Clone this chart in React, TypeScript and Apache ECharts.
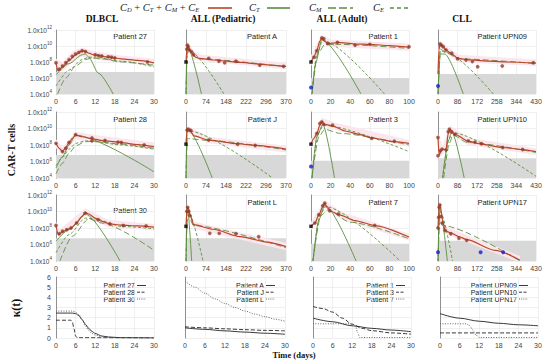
import React, { useEffect, useRef } from "react";
import * as echarts from "echarts";

// ---------------- DATA ----------------
const columnTitles = ["DLBCL", "ALL (Pediatric)", "ALL (Adult)", "CLL"];
const xMaxByColumn = [30, 370, 100, 430];
const xStepByColumn = [6, 74, 20, 86];
const logTickMin = 4;
const logTickMax = 12;
const kappaMax = 6;

// Row 1
const p27Total = [[0, 7.9], [0.6, 6.9], [2, 7.4], [4, 8.2], [6, 8.9], [8, 9.4], [9, 9.35], [10, 9.1], [12, 8.85], [16, 8.6], [20, 8.4], [25, 8.2], [30, 7.9]];
const p27Obs = [[0, 7.9], [1, 7.1], [2, 7.5], [3, 7.9], [4, 8.3], [5, 8.7], [6, 9.0], [7, 9.2], [8, 9.4], [9, 9.3], [12, 8.9], [13, 8.8], [14, 8.75], [16, 8.65], [17, 8.6], [18, 8.5], [28, 8.0]];
const p27CT = [[0, 6.4], [4, 7.8], [8, 8.9], [9, 9.0], [10, 8.6], [13, 6.6], [17.5, 4]];
const p27CM = [[0.5, 4], [3, 6.0], [6, 7.5], [9, 8.3], [11, 8.5], [14, 8.4], [20, 8.0], [30, 7.6]];
const p27CE = [[0, 5.0], [4, 7.0], [8, 8.3], [10, 8.6], [12, 8.6], [20, 8.1], [30, 7.4]];
const p27Band = [[0, 7.3, 8.4], [2, 6.8, 8.0], [5, 8.0, 9.3], [8, 8.7, 9.8], [12, 8.3, 9.3], [20, 7.9, 8.8], [30, 7.5, 8.4]];

const pATotal = [[0, 8.0], [3, 9.5], [6, 10.1], [10, 9.8], [20, 9.2], [35, 8.6], [50, 8.45], [100, 8.25], [200, 7.95], [300, 7.65], [370, 7.45]];
const pAObs = [[3, 9.6], [5, 10.1], [8, 9.9], [12, 9.5], [20, 9.3], [28, 8.9], [84, 8.45], [122, 8.1], [143, 7.9], [185, 8.1], [273, 7.6], [361, 7.45]];
const pACT = [[0, 4], [3, 9.5], [6, 9.9], [57, 4]];
const pACM = [[0, 4], [4, 9.0], [10, 9.3], [50, 8.4], [370, 7.4]];
const pACE = [[0, 4], [5, 9.6], [10, 9.5], [140, 4]];
const pABand = [[0, 7.6, 9.0], [4, 9.0, 10.6], [10, 9.2, 10.3], [30, 8.3, 9.3], [60, 8.1, 8.9], [370, 7.1, 7.9]];

const p1Total = [[0, 8.0], [3, 8.6], [6, 9.5], [9, 10.6], [11, 11.0], [14, 10.6], [17, 10.3], [22, 10.35], [27, 10.45], [45, 10.25], [60, 10.2], [80, 10.05], [100, 9.85]];
const p1Obs = [[3, 8.6], [6, 9.4], [11, 11.0], [13, 10.9], [17, 10.3], [27, 10.45], [45, 10.1], [60, 10.2], [100, 9.9]];
const p1CT = [[1, 4], [5, 8.0], [11, 10.8], [51, 4]];
const p1CM = [[1, 4], [7, 9.0], [14, 10.2], [30, 10.2], [100, 9.7]];
const p1CE = [[1, 4], [6, 9.0], [12, 10.7], [75, 4]];
const p1Band = [[0, 7.5, 8.8], [5, 8.6, 10.0], [11, 10.4, 11.4], [20, 9.9, 10.8], [100, 9.4, 10.3]];

const upn09Total = [[0, 6.5], [4, 9.5], [9, 10.25], [23, 9.9], [35, 9.5], [60, 9.0], [86, 8.5], [123, 8.3], [200, 8.15], [300, 8.0], [430, 7.85]];
const upn09Obs = [[9, 10.25], [15, 10.1], [23, 9.9], [35, 9.5], [60, 9.1], [86, 8.4], [123, 8.25], [151, 8.05], [174, 7.4], [282, 7.5], [418, 7.9]];
const upn09CT = [[0, 4], [10, 9.0], [30, 9.0], [111, 4]];
const upn09CM = [[0, 4], [10, 9.6], [40, 9.1], [90, 8.4], [430, 7.8]];
const upn09CE = [[0, 4], [10, 9.4], [35, 9.2], [243, 4]];
const upn09Band = [[0, 6.6, 9.5], [9, 9.7, 10.7], [40, 9.0, 9.9], [90, 8.0, 8.9], [430, 7.5, 8.3]];

// Row 2
const p28Total = [[0, 8.2], [1, 7.6], [2, 7.2], [3, 7.7], [4, 8.3], [5, 8.8], [6, 9.2], [8, 9.0], [11, 8.75], [15, 8.5], [20, 8.3], [25, 8.05], [30, 7.8]];
const p28Obs = [[0, 8.2], [2, 7.2], [3, 7.6], [4, 8.3], [6, 9.25], [11, 8.85], [11, 8.5], [15, 8.55], [19, 8.35], [20, 8.3], [27, 8.0]];
const p28CT = [[0, 5.2], [2, 6.6], [4, 8.0], [6, 9.2], [30, 4.75]];
const p28CM = [[0, 4.5], [2, 5.8], [4, 7.0], [6, 7.9], [9, 8.4], [12, 8.45], [20, 8.1], [30, 7.6]];
const p28CE = [[0, 5.5], [2, 6.5], [4, 7.5], [6, 8.2], [9, 8.5], [12, 8.4], [20, 8.0], [30, 7.5]];
const p28Band = [[0, 7.6, 8.7], [2, 6.8, 7.7], [6, 8.7, 9.6], [12, 8.3, 9.2], [30, 7.4, 8.3]];

const pJTotal = [[0, 8.1], [3, 9.5], [6, 9.9], [15, 9.75], [30, 9.1], [84, 8.6], [191, 8.15], [256, 7.95], [370, 7.5]];
const pJObs = [[4, 9.8], [8, 9.9], [13, 9.8], [18, 9.75], [84, 8.6], [191, 8.1], [256, 7.95]];
const pJCT = [[0, 4], [3, 9.6], [8, 9.8], [97, 4]];
const pJCM = [[0, 4], [5, 8.8], [15, 8.75], [84, 8.55], [370, 7.4]];
const pJCE = [[0, 4], [4, 9.6], [10, 9.7], [320, 4]];
const pJBand = [[0, 7.6, 8.8], [5, 9.4, 10.3], [20, 9.2, 10.1], [84, 8.2, 9.0], [370, 7.1, 7.9]];

const p3Total = [[0, 8.1], [3, 8.8], [6, 9.4], [9, 10.4], [11, 10.8], [14, 10.5], [22, 10.3], [35, 9.7], [49, 9.3], [62, 8.85], [85, 8.4], [100, 8.2]];
const p3Obs = [[6, 9.4], [9, 10.6], [11, 10.8], [13, 10.5], [22, 10.4], [62, 8.8], [85, 8.45]];
const p3CT = [[1, 4], [6, 9], [12, 10.5], [24, 4]];
const p3CM = [[1, 4], [8, 9.0], [14, 9.9], [30, 9.4], [100, 8.0]];
const p3CE = [[1, 4], [7, 9.4], [13, 10.4], [100, 7.2]];
const p3Band = [[0, 7.6, 8.7], [6, 8.9, 9.9], [11, 10.3, 11.3], [25, 9.8, 10.7], [100, 7.8, 8.6]];

const upn10Total = [[0, 8.9], [5, 6.8], [16, 7.4], [35, 7.5], [45, 9.4], [53, 9.9], [65, 9.5], [75, 9.3], [133, 8.45], [191, 8.1], [284, 7.7], [371, 7.45], [430, 7.2]];
const upn10Obs = [[0, 8.9], [0, 6.7], [10, 7.3], [18, 7.5], [35, 7.4], [45, 9.6], [50, 9.9], [60, 9.6], [75, 9.3], [133, 8.5], [162, 8.35], [191, 8.15], [284, 7.7], [371, 7.45]];
const upn10CT = [[20, 4], [45, 8.5], [60, 9.6], [115, 4]];
const upn10CM = [[25, 4], [50, 8.2], [65, 9.2], [130, 8.3], [430, 7.1]];
const upn10CE = [[20, 4], [50, 8.8], [62, 9.5], [430, 4.2]];
const upn10Band = [[0, 6.3, 9.3], [20, 6.9, 7.9], [53, 9.4, 10.4], [130, 8.0, 8.9], [430, 6.8, 7.6]];

// Row 3
const p30Total = [[0, 8.3], [0.7, 7.2], [2, 7.5], [3.3, 7.8], [4.6, 8.0], [6.3, 8.6], [8, 9.4], [9, 9.9], [10, 9.7], [12, 9.2], [14, 8.8], [16.5, 8.5], [20, 8.35], [25, 8.25], [30, 8.1]];
const p30Obs = [[0, 8.3], [1, 7.3], [2, 7.6], [3.3, 7.8], [4.6, 8.0], [6.3, 8.6], [8.9, 9.8], [12.9, 9.0], [16.5, 8.5], [20.6, 8.3], [27.6, 8.25]];
const p30CT = [[0, 6.4], [4, 7.8], [9, 9.7], [19.6, 4]];
const p30CM = [[1.2, 4], [5, 7.0], [10, 9.1], [14, 8.6], [30, 5.3]];
const p30CE = [[0, 5.0], [4, 7.2], [9, 9.2], [12, 9.1], [20, 8.2], [30, 7.9]];
const p30Band = [[0, 7.8, 8.8], [1, 6.9, 7.8], [9, 9.5, 10.4], [16, 8.1, 9.0], [30, 7.7, 8.5]];

const pLTotal = [[0, 8.2], [4, 10.3], [8, 10.5], [15, 9.6], [28, 8.4], [100, 7.85], [200, 6.95], [300, 6.3], [370, 5.75]];
const pLObs = [[3, 10.0], [6, 10.5], [10, 10.0], [14, 9.5], [88, 7.35], [123, 7.35], [185, 7.3], [269, 6.95]];
const pLCT = [[0, 4], [3, 10.2], [6, 10.3], [21, 4]];
const pLCM = [[0, 4], [5, 9.0], [15, 9.0], [28, 8.3], [370, 5.6]];
const pLCE = [[0, 4], [4, 10.0], [8, 10.1], [63, 4]];
const pLBand = [[0, 7.7, 8.8], [6, 9.9, 10.9], [28, 7.9, 8.8], [370, 5.3, 6.2]];

const p7Total = [[0, 8.2], [4, 8.6], [8, 9.6], [12, 10.6], [14, 11.0], [17, 10.4], [21, 10.0], [29, 9.6], [45, 8.9], [65, 8.3], [100, 6.9]];
const p7Obs = [[4, 8.6], [8, 9.6], [12, 10.7], [14, 11.0], [19, 10.1], [28, 9.7], [65, 8.3]];
const p7CT = [[2, 4], [8, 9.0], [14, 10.8], [46, 4]];
const p7CM = [[2, 4], [10, 9.5], [17, 10.2], [40, 8.7], [100, 6.7]];
const p7CE = [[2, 4], [9, 9.5], [15, 10.6], [91, 4]];
const p7Band = [[0, 7.7, 8.7], [14, 10.5, 11.4], [30, 9.1, 10.0], [100, 6.5, 7.3]];

const upn17Total = [[0, 8.0], [5, 10.5], [10, 10.8], [15, 9.8], [20, 9.0], [31, 7.7], [56, 7.4], [92, 6.95], [126, 6.6], [250, 5.3], [360, 4.1]];
const upn17Obs = [[0, 8.0], [3, 9.3], [5, 10.5], [8, 10.8], [12, 9.4], [18, 8.6], [31, 7.7], [56, 7.3], [92, 6.75], [126, 6.5]];
const upn17CT = [[0, 4], [6, 10.3], [10, 10.2], [41, 4]];
const upn17CM = [[0, 4], [8, 9.0], [20, 8.3], [360, 4.0]];
const upn17CE = [[0, 4], [7, 10], [12, 9.9], [64, 4]];
const upn17Band = [[0, 7.5, 8.6], [8, 10.3, 11.2], [31, 7.3, 8.2], [360, 3.8, 4.6]];

// infusion dose markers (black squares) and blue markers
const doseA = [[0, 8.0]];
const doseJ = [[0, 8.1]];
const doseL = [[0, 8.2]];
const dose1 = [[0, 8.0]];
const dose3 = [[0, 8.1]];
const dose7 = [[0, 8.2]];
const blue1 = [[0, 4.8]];
const blue3 = [[0, 5.4]];
const blue09 = [[0, 5.0]];
const blue17 = [[0, 5.05], [187, 5.05], [286, 5.05]];

// detection-limit band tops (log10)
const bandTops = [6.75, 6.75, 6.0, 6.5, 6.8, 6.8, 6.1, 6.4, 6.75, 6.75, 6.1, 6.45];

const panelNames = ["Patient 27", "Patient A", "Patient 1", "Patient UPN09", "Patient 28", "Patient J", "Patient 3", "Patient UPN10", "Patient 30", "Patient L", "Patient 7", "Patient UPN17"];

// kappa(t)
const k27 = [[0, 2.45], [5, 2.45], [6, 2.4], [7, 2.2], [8, 1.8], [9, 1.35], [10, 0.95], [11, 0.65], [12, 0.45], [14, 0.2], [16, 0.1], [20, 0.03], [30, 0]];
const k28 = [[0, 1.75], [4.5, 1.75], [5, 1.6], [5.5, 0.9], [6, 0.2], [6.5, 0.03], [30, 0]];
const k30 = [[0, 2.65], [5, 2.65], [6, 2.55], [7, 2.3], [8, 1.8], [9, 1.2], [10, 0.75], [11, 0.45], [12, 0.3], [14, 0.12], [18, 0.03], [30, 0]];
const kA = [[0, 1.0], [6, 0.85], [12, 0.7], [18, 0.58], [24, 0.47], [30, 0.37]];
const kJ = [[0, 1.1], [6, 1.0], [12, 0.9], [18, 0.82], [24, 0.75], [30, 0.7]];
const kL = [[0, 5.6], [3, 5.0], [6, 4.4], [9, 3.85], [12, 3.4], [15, 3.0], [18, 2.65], [21, 2.35], [24, 2.1], [27, 1.85], [30, 1.65]];
const k1 = [[0, 1.95], [6, 1.6], [12, 1.2], [18, 0.95], [24, 0.78], [30, 0.62]];
const k3 = [[0, 3.1], [3, 2.9], [6, 2.55], [9, 1.95], [12, 1.35], [15, 0.95], [18, 0.72], [24, 0.5], [30, 0.38]];
const k7 = [[0, 1.4], [12, 1.4], [13, 1.2], [13.7, 0.5], [14.3, 0.05], [30, 0.05]];
const k09 = [[0, 2.4], [6, 1.95], [12, 1.65], [18, 1.45], [24, 1.3], [30, 1.2]];
const k10 = [[0, 0.5], [30, 0.5]];
const k17 = [[0, 1.4], [8, 1.4], [9, 1.25], [10, 0.8], [11, 0.3], [12, 0.05], [30, 0.05]];
const kappaNames = [["Patient 27", "Patient 28", "Patient 30"], ["Patient A", "Patient J", "Patient L"], ["Patient 1", "Patient 3", "Patient 7"], ["Patient UPN09", "Patient UPN10", "Patient UPN17"]];

// ---------------- LAYOUT / STYLE ----------------
const SANS = "'Liberation Sans', Arial, sans-serif";
const SERIF = "'Liberation Serif', 'DejaVu Serif', serif";
const RED = "#b5482a";
const DOT = "#8a3a22";
const GREEN = "#5c8f3e";
const PINK = "#fce6ee";
const GRID_C = "#e4e4e4";

const colLeft = [56, 186, 311, 438];
const colWidth = [98, 100, 98, 98];
const rowTop = [30, 112, 195];
const rowHeight = [64, 66, 66];
const kLeft = [56, 185, 313, 440];
const kTop = 277;
const kHeight = 61;
const labelX = [147, 277, 398, 527];
const labelY = [[36, 36, 36, 36], [119, 119, 119, 119], [210, 202, 202, 202]];
const kLegendIconX = [137, 266, 396, 519];
const kLegendRowY = [285.5, 292.2, 299];

function buildOption() {
  const panels = [
    { total: p27Total, obs: p27Obs, ct: p27CT, cm: p27CM, ce: p27CE, band: p27Band, dose: [], blue: [] },
    { total: pATotal, obs: pAObs, ct: pACT, cm: pACM, ce: pACE, band: pABand, dose: doseA, blue: [] },
    { total: p1Total, obs: p1Obs, ct: p1CT, cm: p1CM, ce: p1CE, band: p1Band, dose: dose1, blue: blue1 },
    { total: upn09Total, obs: upn09Obs, ct: upn09CT, cm: upn09CM, ce: upn09CE, band: upn09Band, dose: [], blue: blue09 },
    { total: p28Total, obs: p28Obs, ct: p28CT, cm: p28CM, ce: p28CE, band: p28Band, dose: [], blue: [] },
    { total: pJTotal, obs: pJObs, ct: pJCT, cm: pJCM, ce: pJCE, band: pJBand, dose: doseJ, blue: [] },
    { total: p3Total, obs: p3Obs, ct: p3CT, cm: p3CM, ce: p3CE, band: p3Band, dose: dose3, blue: blue3 },
    { total: upn10Total, obs: upn10Obs, ct: upn10CT, cm: upn10CM, ce: upn10CE, band: upn10Band, dose: [], blue: [] },
    { total: p30Total, obs: p30Obs, ct: p30CT, cm: p30CM, ce: p30CE, band: p30Band, dose: [], blue: [] },
    { total: pLTotal, obs: pLObs, ct: pLCT, cm: pLCM, ce: pLCE, band: pLBand, dose: doseL, blue: [] },
    { total: p7Total, obs: p7Obs, ct: p7CT, cm: p7CM, ce: p7CE, band: p7Band, dose: dose7, blue: [] },
    { total: upn17Total, obs: upn17Obs, ct: upn17CT, cm: upn17CM, ce: upn17CE, band: upn17Band, dose: [], blue: blue17 },
  ];
  const kappa = [[k27, k28, k30], [kA, kJ, kL], [k1, k3, k7], [k09, k10, k17]];

  const grid: any[] = [];
  const xAxis: any[] = [];
  const yAxis: any[] = [];
  const series: any[] = [];
  const graphic: any[] = [];

  const axisLabelBase = { fontSize: 7, color: "#444", fontFamily: SANS };
  const split = { show: true, lineStyle: { color: GRID_C, width: 0.6 } };

  const line = (name: string, data: any, g: number, color: string, width: number, type: any, z: number) => ({
    type: "line", name, xAxisIndex: g, yAxisIndex: g, data, symbol: "none", smooth: 0.25, smoothMonotone: "x",
    lineStyle: { color, width, type }, itemStyle: { color }, z, silent: true,
  });

  panels.forEach((p, i) => {
    const r = Math.floor(i / 4);
    const c = i % 4;
    const g = grid.length;
    grid.push({ left: colLeft[c], top: rowTop[r], width: colWidth[c], height: rowHeight[r] });
    xAxis.push({
      gridIndex: g, type: "value", min: 0, max: xMaxByColumn[c], interval: xStepByColumn[c],
      axisLine: { show: false }, axisTick: { show: false },
      axisLabel: { ...axisLabelBase, margin: 4 }, splitLine: split,
    });
    yAxis.push({
      gridIndex: g, type: "value", min: logTickMin, max: logTickMax, interval: 2,
      axisLine: { show: true, lineStyle: { color: "#777", width: 0.8 } }, axisTick: { show: false },
      axisLabel: {
        show: c === 0, margin: 4,
        formatter: (v: number) => `{m|1.0x10}{e|${v}}`,
        rich: {
          m: { fontSize: 6.5, color: "#444", fontFamily: SANS },
          e: { fontSize: 4.5, color: "#444", fontFamily: SANS, verticalAlign: "top", padding: [0, 0, 5, 0] },
        },
      },
      splitLine: split,
    });
    const band = p.band;
    series.push({
      type: "custom", name: "band" + i, xAxisIndex: g, yAxisIndex: g, data: band, clip: true, silent: true, z: 1,
      encode: { x: 0, y: [1, 2] },
      renderItem: (params: any, api: any) => {
        if (params.dataIndex !== 0) return null;
        const up = band.map((b) => api.coord([b[0], b[2]]));
        const lo = band.map((b) => api.coord([b[0], b[1]])).reverse();
        return { type: "polygon", shape: { points: up.concat(lo) }, style: { fill: PINK } };
      },
    });
    const ctS: any = line("ct" + i, p.ct, g, GREEN, 0.9, "solid", 3);
    ctS.markArea = {
      silent: true, itemStyle: { color: "#d8d8d8" },
      data: [[{ yAxis: logTickMin }, { yAxis: bandTops[i] }]],
    };
    series.push(ctS);
    series.push(line("ce" + i, p.ce, g, GREEN, 0.9, [3, 2], 3));
    series.push(line("cm" + i, p.cm, g, GREEN, 0.9, [6, 3], 3));
    series.push(line("total" + i, p.total, g, RED, 1.2, "solid", 4));
    series.push({
      type: "scatter", name: "obs" + i, xAxisIndex: g, yAxisIndex: g, data: p.obs, symbol: "circle", symbolSize: 3.4,
      itemStyle: { color: DOT, borderColor: "#c0504d", borderWidth: 0.4 }, z: 5, silent: true,
    });
    if (p.dose.length) series.push({
      type: "scatter", name: "dose" + i, xAxisIndex: g, yAxisIndex: g, data: p.dose, symbol: "rect", symbolSize: 3.5,
      itemStyle: { color: "#000" }, z: 6, silent: true,
    });
    if (p.blue.length) series.push({
      type: "scatter", name: "blue" + i, xAxisIndex: g, yAxisIndex: g, data: p.blue, symbol: "circle", symbolSize: 4,
      itemStyle: { color: "#1a1ad0" }, z: 6, silent: true,
    });
    graphic.push({
      type: "text", x: labelX[c], y: labelY[r][c],
      style: { text: panelNames[i], fontSize: 7.5, fontFamily: SANS, fill: "#222", textAlign: "right", textVerticalAlign: "middle" },
    });
  });

  const dashes: any[] = ["solid", [4, 2], [1, 1.5]];
  const legendDash: any[] = [null, [3, 1.5], [1, 1.2]];
  kappa.forEach((set, c) => {
    const g = grid.length;
    grid.push({ left: kLeft[c], top: kTop, width: colWidth[c], height: kHeight });
    xAxis.push({
      gridIndex: g, type: "value", min: 0, max: 30, interval: 6,
      axisLine: { show: false }, axisTick: { show: false },
      axisLabel: { ...axisLabelBase, margin: 4 }, splitLine: split,
    });
    yAxis.push({
      gridIndex: g, type: "value", min: 0, max: kappaMax, interval: 1,
      axisLine: { show: true, lineStyle: { color: "#777", width: 0.8 } }, axisTick: { show: false },
      axisLabel: { ...axisLabelBase, show: c === 0, margin: 5 }, splitLine: split,
    });
    set.forEach((d, j) => {
      const col = j === 2 ? "#555" : "#222";
      series.push({
        type: "line", name: kappaNames[c][j], xAxisIndex: g, yAxisIndex: g, data: d, symbol: "none",
        smooth: 0.3, smoothMonotone: "x",
        lineStyle: { color: col, width: 0.9, type: dashes[j] },
        itemStyle: { color: col }, silent: true,
      });
      // legend entry (text then key line)
      const y = kLegendRowY[j];
      graphic.push({
        type: "text", x: kLegendIconX[c] - 2, y,
        style: { text: kappaNames[c][j], fontSize: 7, fontFamily: SANS, fill: "#222", textAlign: "right", textVerticalAlign: "middle" },
      });
      graphic.push({
        type: "line", shape: { x1: kLegendIconX[c], y1: y, x2: kLegendIconX[c] + 9, y2: y },
        style: { stroke: col, lineWidth: 0.9, lineDash: legendDash[j] },
      });
    });
  });

  // column titles
  const titleX = [102, 223, 342, 462];
  columnTitles.forEach((t, c) => {
    graphic.push({
      type: "text", x: titleX[c], y: 19,
      style: { text: t, fontSize: 9.5, fontWeight: "bold", fontFamily: SERIF, fill: "#111", textAlign: "center", textVerticalAlign: "middle" },
    });
  });
  // axis titles
  graphic.push({
    type: "text", x: 11, y: 150, rotation: Math.PI / 2,
    style: { text: "CAR-T cells", fontSize: 10, fontWeight: "bold", fontFamily: SERIF, fill: "#111", textAlign: "center", textVerticalAlign: "middle" },
  });
  graphic.push({
    type: "text", x: 16, y: 308, rotation: Math.PI / 2,
    style: { text: "κ(t)", fontSize: 12, fontWeight: "bold", fontFamily: SERIF, fill: "#111", textAlign: "center", textVerticalAlign: "middle" },
  });
  graphic.push({
    type: "text", x: 294, y: 355,
    style: { text: "Time (days)", fontSize: 8.5, fontWeight: "bold", fontFamily: SERIF, fill: "#111", textAlign: "center", textVerticalAlign: "middle" },
  });

  // top legend
  const rich = {
    i: { fontSize: 10.5, fontStyle: "italic", fontFamily: SERIF, fill: "#222" },
    s: { fontSize: 6.5, fontStyle: "italic", fontFamily: SERIF, fill: "#222", verticalAlign: "bottom", padding: [4, 0, 0, 0] },
    p: { fontSize: 10.5, fontFamily: SERIF, fill: "#222" },
  };
  const legItems: [string, number, number, number, string, any][] = [
    ["{i|C}{s|D}{p| + }{i|C}{s|T}{p| + }{i|C}{s|M}{p| + }{i|C}{s|E}", 120, 208, 232, RED, null],
    ["{i|C}{s|T}", 249, 267, 290, GREEN, null],
    ["{i|C}{s|M}", 309, 328, 353, GREEN, [8, 3]],
    ["{i|C}{s|E}", 373, 390, 411, GREEN, [4, 3]],
  ];
  legItems.forEach(([txt, tx, l0, l1, col, dash]) => {
    graphic.push({ type: "text", x: tx, y: 7, style: { text: txt, rich, textAlign: "left", textVerticalAlign: "middle" } });
    graphic.push({ type: "line", shape: { x1: l0, y1: 8, x2: l1, y2: 8 }, style: { stroke: col, lineWidth: 1.6, lineDash: dash } });
  });

  return { animation: false, backgroundColor: "#fff", grid, xAxis, yAxis, series, graphic };
}

export default function App() {
  const ref = useRef<HTMLDivElement>(null);
  useEffect(() => {
    if (!ref.current) return;
    const chart = echarts.init(ref.current, undefined, { renderer: "svg" });
    chart.setOption(buildOption() as any);
    return () => chart.dispose();
  }, []);
  return <div ref={ref} style={{ position: "fixed", left: 0, top: 0, width: 550, height: 362, background: "#fff" }} />;
}
